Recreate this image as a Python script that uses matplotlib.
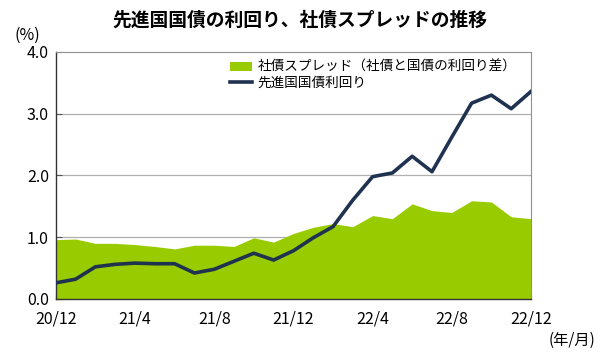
import matplotlib
matplotlib.use("Agg")
import matplotlib.pyplot as plt
import numpy as np

plt.rcParams['font.family'] = ['Noto Sans CJK JP', 'DejaVu Sans']

months = ["20/12","21/1","21/2","21/3","21/4","21/5","21/6","21/7","21/8","21/9","21/10","21/11","21/12",
          "22/1","22/2","22/3","22/4","22/5","22/6","22/7","22/8","22/9","22/10","22/11","22/12"]
yield_dev = [0.26,0.32,0.52,0.56,0.58,0.57,0.57,0.42,0.48,0.61,0.74,0.63,0.78,
             0.99,1.17,1.60,1.98,2.04,2.31,2.06,2.62,3.17,3.30,3.08,3.36]
spread = [0.96,0.97,0.90,0.90,0.88,0.85,0.81,0.87,0.87,0.85,0.99,0.92,1.06,
          1.16,1.22,1.17,1.35,1.30,1.54,1.43,1.40,1.59,1.57,1.33,1.30]
tick_labels = ["20/12","21/4","21/8","21/12","22/4","22/8","22/12"]

fig = plt.figure(figsize=(6, 3.58), dpi=100)
ax = fig.add_axes([0.093, 0.165, 0.792, 0.69])
x = np.arange(len(months))
ax.fill_between(x, 0, spread, color='#99cc00', linewidth=0, label='社債スプレッド（社債と国債の利回り差）', zorder=2)
ax.plot(x, yield_dev, color='#1f3250', linewidth=2.6, label='先進国国債利回り', zorder=3)

ax.set_xlim(0, len(months)-1)
ax.set_ylim(0, 4)
ax.set_yticks([0,1,2,3,4])
ax.set_yticklabels([f"{v:.1f}" for v in [0,1,2,3,4]], fontsize=11.5)
ax.set_xticks([months.index(t) for t in tick_labels])
ax.set_xticklabels(tick_labels, fontsize=11.5)
ax.tick_params(axis='x', direction='in', length=5, pad=8, color='#555555')
ax.tick_params(axis='y', direction='in', length=4, pad=5, color='#555555')
for v in [1,2,3]:
    ax.axhline(v, color='#b0b0b0', linewidth=0.9, zorder=1)
for s in ['top','right']:
    ax.spines[s].set_color('#909090'); ax.spines[s].set_linewidth(0.8)
for s in ['left','bottom']:
    ax.spines[s].set_color('#333333'); ax.spines[s].set_linewidth(1.0)

leg = ax.legend(loc='upper left', bbox_to_anchor=(0.35, 1.0), frameon=False, fontsize=9.8,
                handlelength=1.6, handletextpad=0.4, labelspacing=0.1, borderaxespad=0.2)

fig.text(0.5, 0.945, '先進国国債の利回り、社債スプレッドの推移', ha='center', va='center',
         fontsize=13.5, fontweight='bold')
fig.text(0.025, 0.9, '(%)', ha='left', va='center', fontsize=11.5)
fig.text(0.993, 0.05, '(年/月)', ha='right', va='center', fontsize=11)

fig.savefig('out.png', dpi=100)
